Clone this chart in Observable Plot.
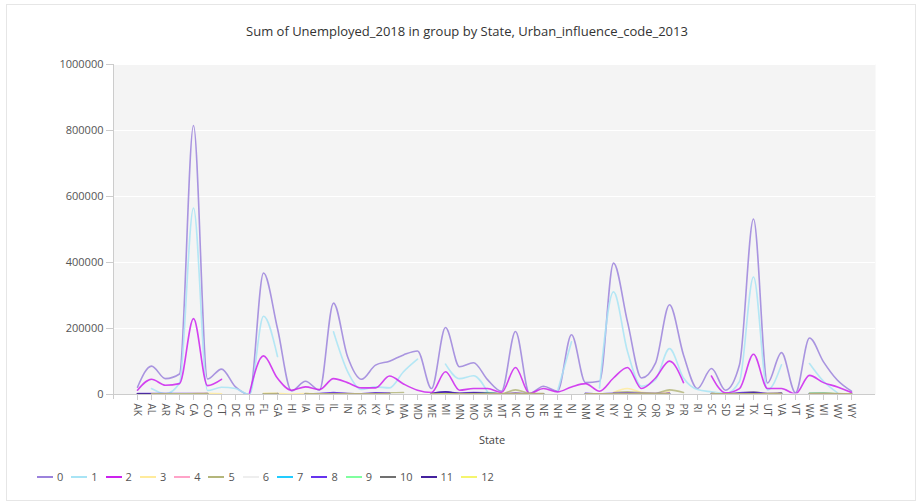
<!DOCTYPE html>
<html><head><meta charset="utf-8">
<script src="https://cdn.jsdelivr.net/npm/d3@7"></script>
<script src="https://cdn.jsdelivr.net/npm/@observablehq/plot@0.6"></script>
<style>
body{margin:0;background:#fff;font-family:"Open Sans",sans-serif;}
#wrap{position:relative;width:920px;height:504px;overflow:hidden;}
#frame{position:absolute;left:6px;top:4px;width:908px;height:495px;border:1px solid #e6e6e6;}
#title{position:absolute;top:22px;left:0;width:934px;text-align:center;font-size:13px;color:#333;}
#chart{position:absolute;left:0;top:50px;}
#yline{position:absolute;left:113px;top:64px;width:1px;height:335px;background:#ccc;}
#xlabel{position:absolute;top:432px;left:462px;width:60px;text-align:center;font-size:11px;color:#444;}
#legend{position:absolute;top:468px;left:37px;display:flex;font-size:11px;color:#555;line-height:18px;}
.item{display:flex;align-items:center;margin-right:8px;}
.sw{width:16px;height:2px;margin-right:4px;}
</style></head>
<body>
<div id="wrap">
<div id="frame"></div>
<div id="title">Sum of Unemployed_2018 in group by State, Urban_influence_code_2013</div>
<div id="chart"></div>
<div id="yline"></div>
<div id="xlabel">State</div>
<div id="legend"></div>
</div>
<script>
const states = ["AK","AL","AR","AZ","CA","CO","CT","DC","DE","FL","GA","HI","IA","ID","IL","IN","KS","KY","LA","MA","MD","ME","MI","MN","MO","MS","MT","NC","ND","NE","NH","NJ","NM","NV","NY","OH","OK","OR","PA","PR","RI","SC","SD","TN","TX","UT","VA","VT","WA","WI","WV","WY"];
const codes = ["0","1","2","3","4","5","6","7","8","9","10","11","12"];
const colors = ["#9b82dc","#a8e4f5","#cc22ee","#ffeb9c","#ffa3c8","#b4b67b","#eeeeee","#22ccff","#6633ee","#80ff9f","#707070","#44229e","#f5f56e"];
const yTicks = [0,200000,400000,600000,800000,1000000];

const code0 = [22000,86000,48000,62000,815000,47000,77000,23000,0,368000,200000,11000,40000,13000,277000,115000,46000,89000,101000,120000,132000,18000,203000,84000,96000,45000,10000,191000,3000,25000,10000,181000,36000,40000,398000,220000,50000,95000,272000,120000,18000,79000,13000,90000,532000,35000,127000,5000,171000,99000,43000,10000];
const code1 = [null,18000,2000,35000,565000,12000,22000,18000,0,237000,115000,null,null,null,190000,70000,15000,23000,20000,69000,107000,null,92000,48000,57000,8000,null,null,null,null,10000,160000,null,20000,311000,130000,25000,45000,139000,50000,15000,8000,3000,40000,356000,14000,90000,null,94000,40000,5000,null];
const code2 = [13000,46000,28000,33000,230000,27000,46000,null,5000,117000,49000,13000,23000,15000,48000,36000,20000,20000,56000,32000,13000,6000,69000,13000,18000,18000,6000,82000,3000,18000,8000,23000,33000,10000,50000,82000,18000,50000,101000,36000,null,56000,5000,18000,122000,18000,18000,2000,58000,36000,23000,6000];
const code3 = [null,null,null,2000,3000,4000,2000,null,null,4000,4000,1000,3000,2000,3000,2000,2000,3000,2000,null,null,2000,4000,3000,3000,4000,2000,5000,1000,2000,null,null,2000,null,6000,18000,7000,4000,8000,null,null,4000,2000,4000,6000,3000,4000,null,3000,3000,2000,1000];
const code4 = [null,1000,1000,null,2000,1000,null,null,null,2000,2000,null,1000,1000,2000,2000,1000,1000,2000,null,null,1000,2000,1000,1000,1000,1000,2000,null,1000,null,null,1000,null,2000,3000,2000,1000,3000,null,null,1000,1000,2000,3000,1000,2000,null,1000,1000,1000,null];
const code5 = [null,1000,1000,2000,2000,3000,null,null,null,2000,3000,null,3000,2000,3000,3000,2000,4000,5000,6000,null,2000,4000,3000,4000,5000,2000,14000,4000,3000,null,null,3000,null,5000,8000,5000,4000,14000,6000,null,3000,2000,4000,8000,3000,5000,null,4000,5000,3000,2000];
const code6 = [1000,1000,1000,1000,1000,1000,null,null,null,1000,1000,null,2000,1000,2000,1000,1000,1000,1000,1000,null,1000,2000,1000,1000,1000,1000,2000,1000,1000,1000,null,1000,1000,2000,2000,1000,1000,2000,null,null,1000,1000,1000,2000,1000,1000,1000,1000,1000,1000,1000];
const code7 = [null,1000,1000,1000,2000,1000,null,null,null,1000,2000,null,1000,1000,2000,1000,1000,2000,1000,null,null,1000,2000,1000,2000,2000,1000,2000,1000,1000,null,null,1000,1000,1000,2000,1000,1000,2000,null,null,1000,1000,2000,3000,1000,2000,null,1000,1000,1000,1000];
const code8 = [3000,3000,3000,3000,3000,3000,null,null,null,null,3000,null,2000,3000,6000,3000,2000,5000,4000,null,null,2000,8000,4000,6000,5000,2000,4000,2000,1000,null,null,4000,2000,4000,4000,3000,3000,4000,null,null,3000,2000,5000,7000,3000,4000,null,3000,3000,2000,1000];
const code9 = [null,2000,2000,1000,1000,1000,null,null,null,1000,2000,null,1000,1000,1000,1000,1000,2000,2000,null,null,1000,1000,1000,2000,6000,1000,2000,1000,1000,null,null,1000,null,1000,2000,2000,1000,2000,null,null,2000,1000,2000,3000,1000,2000,null,4000,4000,2000,1000];
const code10 = [2000,1000,1000,null,1000,1000,null,null,null,1000,1000,null,1000,1000,1000,1000,1000,1000,1000,null,null,1000,2000,1000,1000,1000,1000,1000,1000,1000,null,null,1000,1000,1000,1000,1000,1000,1000,null,null,1000,1000,1000,2000,1000,1000,null,1000,1000,1000,1000];
const code11 = [2000,2000,2000,1000,1000,1000,null,null,null,1000,2000,null,2000,1000,3000,2000,2000,3000,2000,null,null,2000,8000,3000,5000,4000,2000,3000,2000,2000,null,null,2000,1000,2000,3000,2000,2000,3000,null,null,2000,2000,3000,5000,1000,3000,null,2000,2000,2000,1000];
const code12 = [null,1000,1000,1000,1000,1000,null,null,null,1000,1000,null,1000,1000,1000,1000,1000,1000,1000,null,null,1000,1000,1000,1000,1000,1000,1000,1000,1000,null,null,1000,1000,1000,1000,1000,1000,1000,null,null,1000,1000,1000,1000,1000,1000,null,1000,1000,1000,1000];

const series = [code0,code1,code2,code3,code4,code5,code6,code7,code8,code9,code10,code11,code12];
const rows = [];
series.forEach((vals, k) => vals.forEach((v, i) => rows.push({state: states[i], code: codes[k], value: v == null ? NaN : v})));

const chart = Plot.plot({
  width: 920, height: 400,
  marginLeft: 113, marginRight: 45, marginTop: 14, marginBottom: 56,
  style: {fontFamily: "Open Sans, sans-serif", fontSize: "11px", color: "#555", background: "transparent"},
  x: {type: "point", domain: states, padding: 1.05, label: null},
  y: {domain: [0, 1000000], label: null},
  color: {domain: codes, range: colors},
  marks: [
    Plot.frame({fill: "#f4f4f4", stroke: null}),
    Plot.gridY(yTicks, {stroke: "#ffffff", strokeOpacity: 1, strokeWidth: 1.2}),
    Plot.ruleY([0], {stroke: "#cccccc"}),
    Plot.axisY({ticks: yTicks, tickFormat: d3.format("d"), tickSize: 7, tickPadding: 3, stroke: "#cccccc", fill: "#555", fontSize: 11}),
    Plot.axisX({tickRotate: 90, tickSize: 6, tickPadding: 3, stroke: "#cccccc", fill: "#555", fontSize: 10}),
    ...codes.map(c => Plot.line(rows.filter(r => r.code === c), {x: "state", y: "value", stroke: "code", curve: "monotone-x", strokeWidth: 1.6, strokeOpacity: 0.85, clip: true}))
  ]
});
document.getElementById("chart").appendChild(chart);

const legend = document.getElementById("legend");
codes.forEach((c, k) => {
  const it = document.createElement("div"); it.className = "item";
  const sw = document.createElement("div"); sw.className = "sw"; sw.style.background = colors[k];
  const lb = document.createElement("span"); lb.textContent = c;
  it.appendChild(sw); it.appendChild(lb); legend.appendChild(it);
});
</script>
</body></html>
